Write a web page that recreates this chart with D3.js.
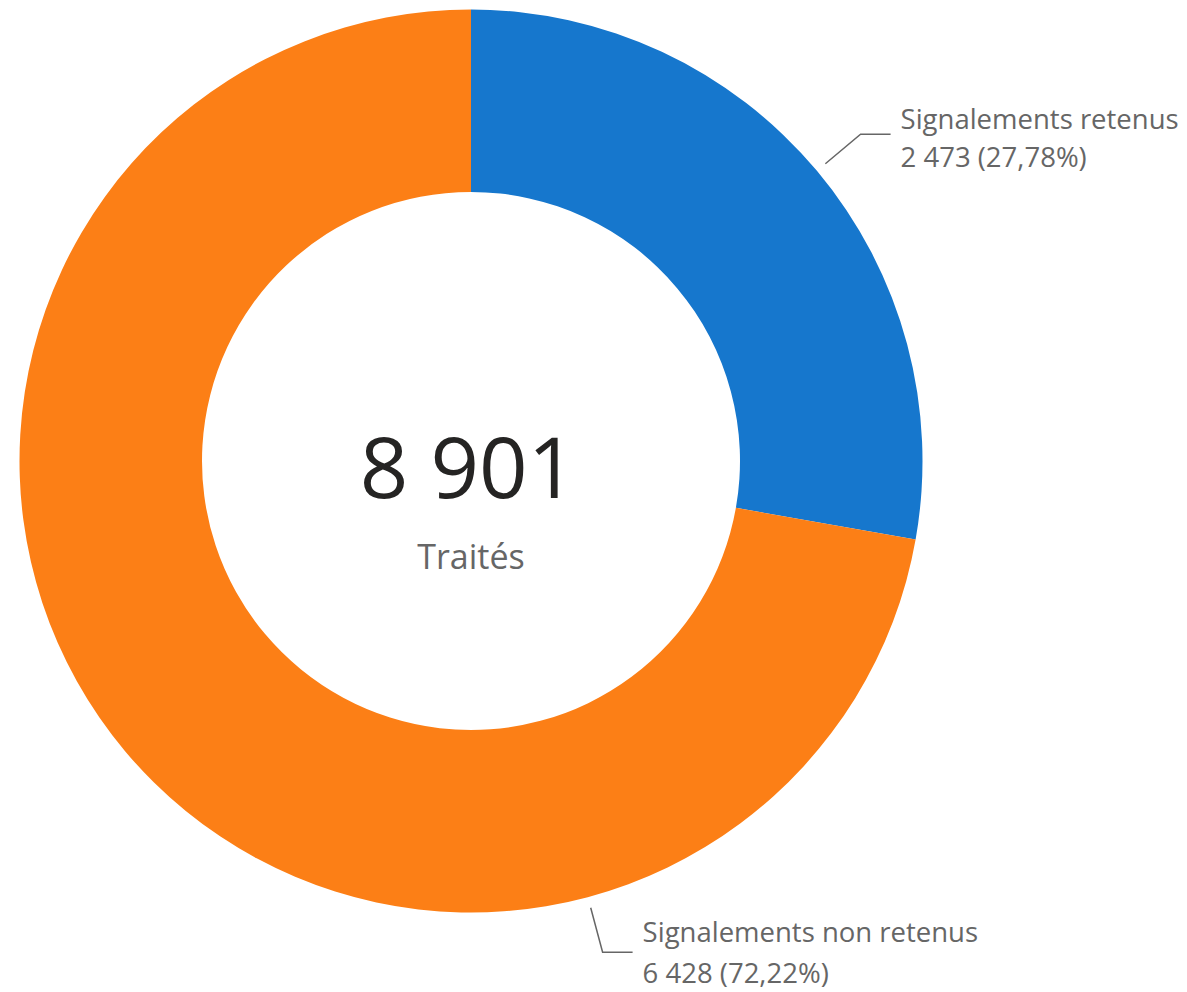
<!DOCTYPE html>
<html>
<head>
<meta charset="utf-8">
<script src="https://cdn.jsdelivr.net/npm/d3@7"></script>
<style>
  body { margin: 0; background: #fff; }
  svg { display: block; font-family: "Segoe UI", "Open Sans", sans-serif; }
</style>
</head>
<body>
<div id="chart"></div>
<script>
const categories = ["Signalements retenus", "Signalements non retenus"];
const values = [2473, 6428];
const percentLabels = ["27,78%", "72,22%"];
const colors = ["#1677CD", "#FC7F16"];
const totalLabel = "Traités";

const width = 1187, height = 992;
const cx = 471, cy = 461;
const outerR = 451.5, innerR = 269;

// format with a space as thousands separator, like the source
const fmt = v => d3.format(",")(v).replace(/,/g, " ");

const svg = d3.select("#chart").append("svg")
    .attr("width", width)
    .attr("height", height);

const g = svg.append("g").attr("transform", `translate(${cx},${cy})`);

const pie = d3.pie().sort(null).value(d => d.value);
const arc = d3.arc().innerRadius(innerR).outerRadius(outerR);

const data = categories.map((c, i) => ({ name: c, value: values[i], pct: percentLabels[i], color: colors[i] }));
const arcs = pie(data);

g.selectAll("path.slice")
  .data(arcs)
  .join("path")
  .attr("class", "slice")
  .attr("d", arc)
  .attr("fill", d => d.data.color);

// center total
const total = d3.sum(values);
g.append("text")
  .attr("text-anchor", "middle")
  .attr("x", -3)
  .attr("y", 37)
  .attr("font-size", 85)
  .attr("fill", "#252423")
  .text(fmt(total));

g.append("text")
  .attr("text-anchor", "middle")
  .attr("y", 108)
  .attr("font-size", 34)
  .attr("fill", "#666666")
  .text(totalLabel);

// labels: Power BI pushes the second label toward the bottom
const labelAngle = [null, 165 * Math.PI / 180];
const r1 = outerR + 11, r2 = outerR + 57;

const labels = g.selectAll("g.label")
  .data(arcs)
  .join("g")
  .attr("class", "label");

labels.each(function (d, i) {
  const a = labelAngle[i] != null ? labelAngle[i] : (d.startAngle + d.endAngle) / 2;
  const p1 = [r1 * Math.sin(a), -r1 * Math.cos(a)];
  const p2 = [r2 * Math.sin(a), -r2 * Math.cos(a)];
  const p3 = [p2[0] + 30, p2[1]];
  const sel = d3.select(this);
  sel.append("path")
    .attr("d", d3.line()([p1, p2, p3]))
    .attr("fill", "none")
    .attr("stroke", "#666666")
    .attr("stroke-width", 1.5);
  const t = sel.append("text")
    .attr("x", p3[0] + 10)
    .attr("y", p3[1])
    .attr("font-size", 27.5)
    .attr("fill", "#666666");
  t.append("tspan").attr("x", p3[0] + 10).attr("dy", i === 0 ? -5 : -10).text(d.data.name);
  t.append("tspan").attr("x", p3[0] + 10).attr("dy", i === 0 ? 38 : 41).text(fmt(d.data.value) + " (" + d.data.pct + ")");
});
</script>
</body>
</html>
